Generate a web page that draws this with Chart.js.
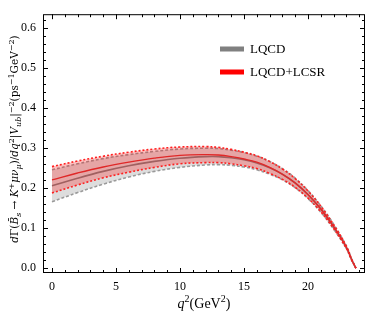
<!DOCTYPE html>
<html>
<head>
<meta charset="utf-8">
<script src="https://cdn.jsdelivr.net/npm/chart.js@4"></script>
<style>
  html, body { margin: 0; padding: 0; background: #fff; }
  #wrap { width: 374px; height: 312px; }
</style>
</head>
<body>
<div id="wrap"><canvas id="myChart" width="374" height="312"></canvas></div>
<script>
// q^2 points (GeV^2)
var q2 = [0, 2, 4, 6, 8, 10, 12, 13, 14, 15, 16, 17, 18, 19, 20, 21, 22, 23, 23.4, 23.74];

// LQCD (gray)
var lqcdMid = [0.206, 0.225, 0.242, 0.256, 0.267, 0.275, 0.279, 0.279, 0.276, 0.271, 0.263, 0.251, 0.235, 0.213, 0.184, 0.148, 0.104, 0.052, 0.022, 0];
var lqcdUp  = [0.246, 0.261, 0.274, 0.284, 0.292, 0.298, 0.300, 0.299, 0.295, 0.289, 0.280, 0.267, 0.249, 0.225, 0.194, 0.156, 0.110, 0.055, 0.0235, 0];
var lqcdLo  = [0.166, 0.189, 0.210, 0.228, 0.242, 0.252, 0.258, 0.259, 0.257, 0.253, 0.246, 0.235, 0.221, 0.201, 0.174, 0.140, 0.098, 0.049, 0.0205, 0];

// LQCD+LCSR (red)
var lcsrMid = [0.221, 0.238, 0.253, 0.265, 0.275, 0.282, 0.284, 0.283, 0.279, 0.273, 0.265, 0.252, 0.235, 0.213, 0.184, 0.148, 0.104, 0.052, 0.022, 0];
var lcsrUp  = [0.254, 0.268, 0.280, 0.290, 0.298, 0.303, 0.304, 0.302, 0.297, 0.290, 0.281, 0.267, 0.248, 0.224, 0.193, 0.155, 0.109, 0.055, 0.0235, 0];
var lcsrLo  = [0.188, 0.208, 0.226, 0.240, 0.252, 0.261, 0.264, 0.264, 0.261, 0.256, 0.249, 0.237, 0.222, 0.202, 0.175, 0.141, 0.099, 0.049, 0.0205, 0];

var xTicks = [0, 5, 10, 15, 20];
var yTicks = [0, 0.1, 0.2, 0.3, 0.4, 0.5, 0.6];
var legendLabels = ["LQCD", "LQCD+LCSR"];
var legendColors = ["#808080", "#ff0000"];

var serif = "'Liberation Serif', 'DejaVu Serif', serif";

function pts(ys) {
  return q2.map(function (x, i) { return { x: x, y: ys[i] }; });
}

function line(data, color, width, dash, order, fill, bg) {
  return {
    data: pts(data),
    borderColor: color,
    borderWidth: width,
    borderDash: dash,
    pointRadius: 0,
    tension: 0.4,
    fill: fill,
    backgroundColor: bg,
    order: order
  };
}

// frame, inward ticks, axis titles and legend
var decor = {
  id: "decor",
  afterDraw: function (chart) {
    var ctx = chart.ctx;
    var a = chart.chartArea;
    var xs = chart.scales.x, ys = chart.scales.y;
    ctx.save();
    ctx.strokeStyle = "#000";
    ctx.lineWidth = 1;
    ctx.strokeRect(a.left + 0.5, a.top + 0.5, a.right - a.left - 1, a.bottom - a.top - 1);

    ctx.beginPath();
    for (var v = 0; v <= 24; v++) {
      var px = Math.round(xs.getPixelForValue(v)) + 0.5;
      var len = v % 5 === 0 ? 5 : 3;
      ctx.moveTo(px, a.bottom); ctx.lineTo(px, a.bottom - len);
      ctx.moveTo(px, a.top); ctx.lineTo(px, a.top + len);
    }
    for (var k = 0; k <= 31; k++) {
      var py = Math.round(ys.getPixelForValue(k * 0.02)) + 0.5;
      var l2 = k % 5 === 0 ? 5 : 3;
      ctx.moveTo(a.left, py); ctx.lineTo(a.left + l2, py);
      ctx.moveTo(a.right, py); ctx.lineTo(a.right - l2, py);
    }
    ctx.stroke();

    // x title
    ctx.fillStyle = "#000";
    richText(ctx, [
      { t: "q", i: 1 }, { t: "2", sup: 1 }, { t: "(GeV" }, { t: "2", sup: 1 }, { t: ")" }
    ], 204, 308, 14, 0, serif);

    // y title
    richText(ctx, [
      { t: "d", i: 1 }, { t: "Γ(" }, { t: "B̄", i: 1 }, { t: "s", i: 1, sub: 1 }, { t: " → " },
      { t: "K", i: 1 }, { t: "+", sup: 1 }, { t: "μν", i: 1 }, { t: "μ", i: 1, sub: 1 },
      { t: ")/" }, { t: "dq", i: 1 }, { t: "2", sup: 1 }, { t: "|" }, { t: "V", i: 1 },
      { t: "ub", i: 1, sub: 1 }, { t: "|" }, { t: "−2", sup: 1 }, { t: "(ps" },
      { t: "−1", sup: 1 }, { t: "GeV" }, { t: "−2", sup: 1 }, { t: ")" }
    ], 18, 139, 10.5, -Math.PI / 2, "'DejaVu Serif', serif");

    // legend
    ctx.font = "13px " + serif;
    ctx.textAlign = "left";
    ctx.textBaseline = "middle";
    for (var j = 0; j < legendLabels.length; j++) {
      var ly = 49 + j * 23;
      ctx.fillStyle = legendColors[j];
      ctx.fillRect(220, ly - 2.5, 24, 5);
      ctx.fillStyle = "#000";
      ctx.fillText(legendLabels[j], 250, ly + 0.5);
    }
    ctx.restore();
  }
};

// draws text pieces with italics and super/subscripts; (bx, by) is the baseline centre
function richText(ctx, segs, bx, by, size, rot, fam) {
  var small = Math.round(size * 0.72);
  function font(s) {
    return (s.i ? "italic " : "") + ((s.sup || s.sub) ? small : size) + "px " + fam;
  }
  var total = 0;
  segs.forEach(function (s) { ctx.font = font(s); total += ctx.measureText(s.t).width; });
  ctx.save();
  ctx.translate(bx, by);
  ctx.rotate(rot);
  ctx.textAlign = "left";
  ctx.textBaseline = "alphabetic";
  var x = -total / 2;
  segs.forEach(function (s) {
    ctx.font = font(s);
    var dy = s.sup ? -size * 0.4 : (s.sub ? size * 0.25 : 0);
    ctx.fillText(s.t, x, dy);
    x += ctx.measureText(s.t).width;
  });
  ctx.restore();
}

new Chart("myChart", {
  type: "line",
  data: {
    datasets: [
      line(lqcdUp, "#9a9a9a", 1.6, [3, 2], 5, false),
      line(lqcdLo, "#9a9a9a", 1.6, [3, 2], 6, { target: 0 }, "rgba(128,128,128,0.27)"),
      line(lqcdMid, "#808080", 1.6, [], 4, false),
      line(lcsrUp, "#ff2020", 1.6, [2, 2], 2, false),
      line(lcsrLo, "#ff2020", 1.6, [2, 2], 3, { target: 3 }, "rgba(255,0,0,0.25)"),
      line(lcsrMid, "#e02828", 1.3, [], 1, false)
    ]
  },
  options: {
    responsive: false,
    animation: false,
    layout: { padding: { left: 0, right: 9, top: 13, bottom: 0 } },
    plugins: { legend: { display: false }, tooltip: { enabled: false } },
    scales: {
      x: {
        type: "linear",
        min: -0.7,
        max: 24.45,
        grid: { display: false, drawTicks: false },
        border: { display: false },
        afterFit: function (s) { s.height = 39; },
        afterBuildTicks: function (s) { s.ticks = xTicks.map(function (v) { return { value: v }; }); },
        ticks: {
          padding: 7,
          color: "#000",
          font: { family: serif, size: 12 },
          callback: function (v) { return String(v); }
        }
      },
      y: {
        type: "linear",
        min: -0.012,
        max: 0.635,
        grid: { display: false, drawTicks: false },
        border: { display: false },
        afterFit: function (s) { s.width = 43; },
        afterBuildTicks: function (s) { s.ticks = yTicks.map(function (v) { return { value: v }; }); },
        ticks: {
          padding: 7,
          color: "#000",
          font: { family: serif, size: 12 },
          callback: function (v) { return v.toFixed(1); }
        }
      }
    }
  },
  plugins: [decor]
});
</script>
</body>
</html>
